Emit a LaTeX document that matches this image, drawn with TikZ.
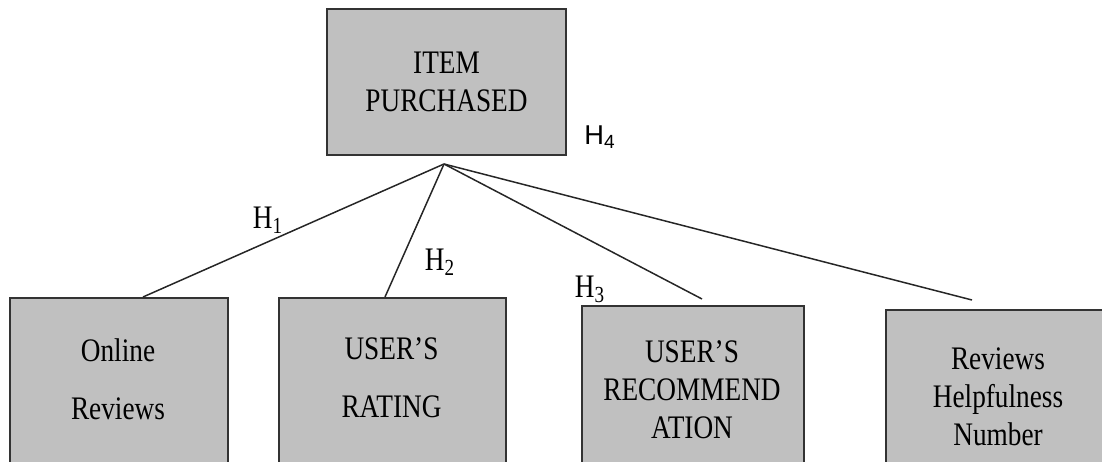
\documentclass[tikz,border=0pt]{standalone}
\usepackage{fontspec}
\setmainfont{Liberation Serif}[FakeStretch=0.83]
\newfontfamily\hsans{Liberation Sans}
\usepackage{tikz}
\definecolor{boxgray}{HTML}{C0C0C0}
\tikzset{%
  boxnode/.style  = {shape=rectangle, draw=black!80, fill=boxgray,%
                     line width=1.1pt, inner sep=0pt},%
  boxtext/.style  = {align=center, inner sep=0pt,%
                     font=\fontsize{18.7}{21.5}\selectfont},%
  widetext/.style = {boxtext, font=\fontsize{18.7}{33}\selectfont},%
  hyp/.style      = {inner sep=0pt, font=\fontsize{18.7}{21.5}\selectfont},%
  link/.style     = {draw=black!85, line width=0.85pt}%
}

\begin{document}
\begin{tikzpicture}[x=0.02cm, y=-0.02cm]
  \clip (0,0) rectangle (1102,462);
  \node[boxnode, boxtext, minimum width=4.78cm, minimum height=2.92cm]
    (item) at (446.5,82) {ITEM\\PURCHASED};
  \node[boxnode, anchor=north west, minimum width=4.36cm, minimum height=4cm]
    (online) at (9,297) {};
  \node[boxnode, anchor=north west, minimum width=4.54cm, minimum height=4cm]
    (rating) at (278,297) {};
  \node[boxnode, anchor=north west, minimum width=4.44cm, minimum height=4cm]
    (recom) at (581,305) {};
  \node[boxnode, anchor=north west, minimum width=4.52cm, minimum height=4cm]
    (helpful) at (885,309) {};
  \node[widetext] (onlinetext) at (118,379) {Online\\Reviews};
  \node[widetext] (ratingtext) at (391.5,377.5) {USER'S\\RATING};
  \node[boxtext] (recomtext) at (692,390) {USER'S\\RECOMMEND\\ATION};
  \node[boxtext] (helpfultext) at (998,397) {Reviews\\Helpfulness\\Number};
  \coordinate (hub) at (444,164);
  \coordinate (e1) at (143,297);
  \coordinate (e2) at (385,297);
  \coordinate (e3) at (702,299);
  \coordinate (e4) at (972,300);
  \draw[link] (hub) -- (e1);
  \draw[link] (hub) -- (e2);
  \draw[link] (hub) -- (e3);
  \draw[link] (hub) -- (e4);
  \node[hyp] (h1) at (268,220) {H\textsubscript{1}};
  \node[hyp] (h2) at (440,262) {H\textsubscript{2}};
  \node[hyp] (h3) at (590,289) {H\textsubscript{3}};
  \node[inner sep=0pt, font=\hsans\fontsize{15.5}{18}\selectfont]
    (h4) at (600,137) {H\textsubscript{4}};
\end{tikzpicture}
\end{document}
